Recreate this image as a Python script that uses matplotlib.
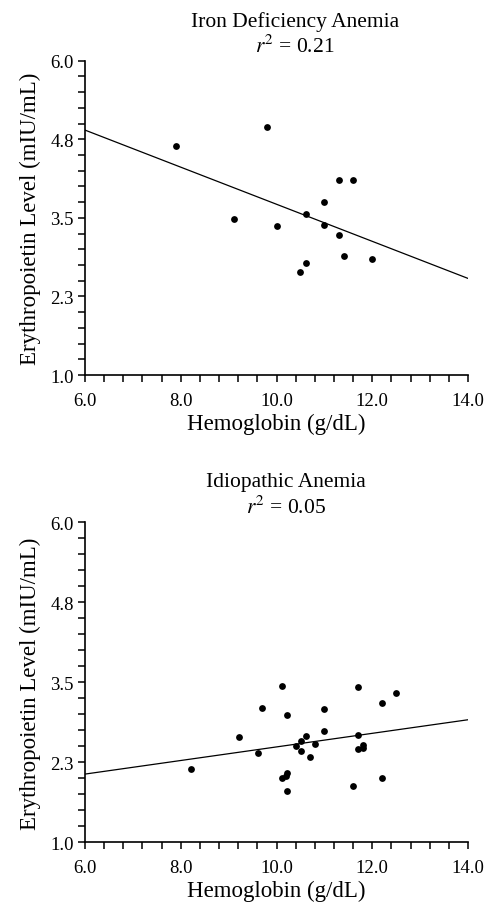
import numpy as np
import matplotlib
matplotlib.use('Agg')
import matplotlib.pyplot as plt

plt.rcParams['font.family'] = ['Liberation Serif', 'DejaVu Serif']
plt.rcParams['mathtext.fontset'] = 'stix'

# ── data ────────────────────────────────────────────────────────────────────
ida_hb  = [7.91, 9.81, 9.11, 10.00, 10.61, 11.00, 11.30, 11.60, 11.00, 11.30,
           11.41, 12.00, 10.61, 10.50]
ida_epo = [4.64, 4.95, 3.48, 3.375, 3.56, 3.757, 4.10, 4.10, 3.39, 3.23,
           2.89, 2.845, 2.78, 2.64]
ida_fit = (-0.2949, 6.666)      # slope, intercept
ida_r2  = '0.21'

idio_hb  = [8.21, 9.215, 9.61, 9.70, 10.11, 10.21, 10.11, 10.21, 10.20, 10.21,
            10.41, 10.51, 10.51, 10.61, 10.70, 10.81, 11.00, 11.00, 11.60, 11.70,
            11.70, 11.70, 11.80, 11.80, 12.20, 12.20, 12.50]
idio_epo = [2.145, 2.645, 2.39, 3.10, 3.44, 2.99, 2.005, 2.09, 2.04, 1.80,
            2.50, 2.59, 2.42, 2.66, 2.34, 2.54, 3.09, 2.74, 1.875, 3.42,
            2.68, 2.46, 2.52, 2.47, 3.17, 2.01, 3.33]
idio_fit = (0.1061, 1.430)
idio_r2  = '0.05'

x_ticks  = [6.0, 8.0, 10.0, 12.0, 14.0]
x_labels = ['6.0', '8.0', '10.0', '12.0', '14.0']
y_ticks  = [1.0, 2.25, 3.5, 4.75, 6.0]
y_labels = ['1.0', '2.3', '3.5', '4.8', '6.0']

fig = plt.figure(figsize=(4.86, 9.04), dpi=100)

def panel(rect, hb, epo, fit, title, r2, tx):
    ax = fig.add_axes(rect)
    ax.scatter(hb, epo, s=24, color='black', zorder=3, linewidths=0)
    xx = np.array([6.0, 14.0])
    ax.plot(xx, fit[0] * xx + fit[1], color='black', lw=0.9)
    ax.set_xlim(6, 14); ax.set_ylim(1, 6)
    ax.set_xticks(x_ticks); ax.set_xticklabels(x_labels)
    ax.set_yticks(y_ticks); ax.set_yticklabels(y_labels)
    ax.set_xticks(np.arange(6.0, 14.01, 0.4), minor=True)
    ax.set_yticks(np.arange(1.0, 6.01, 0.25), minor=True)
    for s in ['top', 'right']: ax.spines[s].set_visible(False)
    for s in ['left', 'bottom']: ax.spines[s].set_linewidth(1.2)
    ax.tick_params(which='both', direction='out', length=5, width=1.1, labelsize=13.5)
    ax.tick_params(axis='x', which='both', pad=7)
    ax.tick_params(axis='y', which='both', pad=3)
    ax.set_xlabel('Hemoglobin (g/dL)', fontsize=16.5, labelpad=3)
    ax.set_ylabel('Erythropoietin Level (mIU/mL)', fontsize=16.5, labelpad=7)
    ax.text(tx, 1.127, title, transform=ax.transAxes, ha='center', va='center', fontsize=15.5)
    ax.text(tx, 1.048, f'$r^2$ = {r2}', transform=ax.transAxes, ha='center', va='center', fontsize=15.5)
    return ax

panel([0.175, 0.584, 0.788, 0.3477], ida_hb, ida_epo, ida_fit, 'Iron Deficiency Anemia', ida_r2, 0.548)
panel([0.175, 0.0671, 0.788, 0.354], idio_hb, idio_epo, idio_fit, 'Idiopathic Anemia', idio_r2, 0.525)

plt.savefig('out.png', dpi=100)
